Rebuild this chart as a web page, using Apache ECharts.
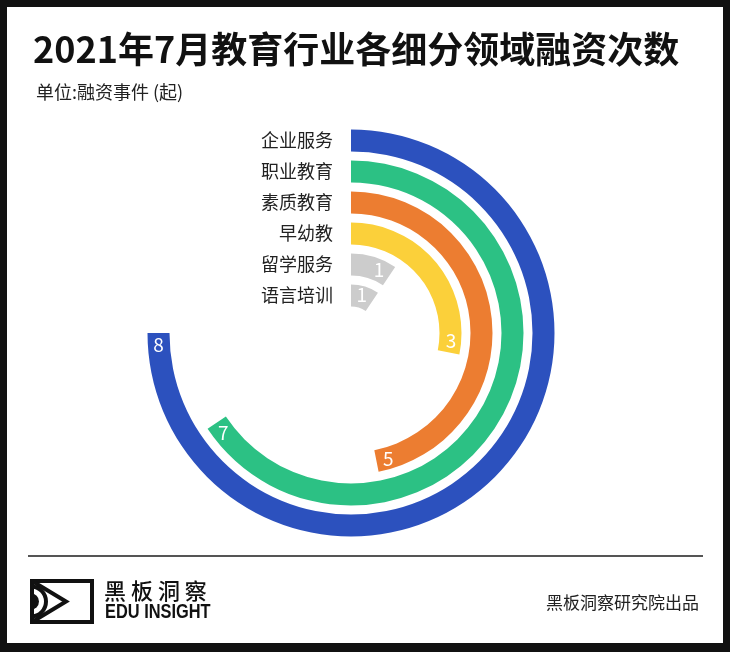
<!DOCTYPE html>
<html>
<head>
<meta charset="utf-8">
<script src="https://cdn.jsdelivr.net/npm/echarts@6/dist/echarts.min.js"></script>
<style>
html,body{margin:0;padding:0;background:#111;}
#chart{width:730px;height:652px;}
</style>
</head>
<body>
<div id="chart"></div>
<script>
// ---- data ----
const categories = ['语言培训', '留学服务', '早幼教', '素质教育', '职业教育', '企业服务'];
const values = [1, 1, 3, 5, 7, 8];
const palette = ['#cccccc', '#cccccc', '#fbd03a', '#ec7d31', '#2cc184', '#2c51be'];
const angleMax = 32 / 3; // 8 spans three quarters of the circle
const titleText = '2021年7月教育行业各细分领域融资次数';
const unitText = '单位:融资事件 (起)';
const sourceText = '黑板洞察研究院出品';

const FONT = '"Noto Sans CJK SC", "Noto Sans", sans-serif';

const chart = echarts.init(document.getElementById('chart'), null, {renderer: 'canvas'});

const option = {
  backgroundColor: '#111111',
  animation: false,
  graphic: [
    {type: 'rect', z: -10, shape: {x: 7, y: 7, width: 716, height: 636}, style: {fill: '#ffffff'}},
    {type: 'line', shape: {x1: 28, y1: 556, x2: 703, y2: 556}, style: {stroke: '#555555', lineWidth: 2}},
    // logo
    {type: 'rect', shape: {x: 32, y: 581, width: 60, height: 41}, style: {fill: 'none', stroke: '#111', lineWidth: 4}},
    {type: 'polyline', shape: {points: [[32, 581], [66, 601.5], [32, 622]]}, style: {fill: 'none', stroke: '#111', lineWidth: 4}},
    {type: 'arc', shape: {cx: 31, cy: 601.5, r: 15, startAngle: -Math.PI / 2, endAngle: Math.PI / 2}, style: {fill: 'none', stroke: '#111', lineWidth: 4}},
    {type: 'sector', shape: {cx: 31, cy: 601.5, r: 8, r0: 0, startAngle: -Math.PI / 2, endAngle: Math.PI / 2}, style: {fill: '#111'}},
    {type: 'text', x: 104, y: 580, style: {text: '黑 板 洞 察', font: '500 22px ' + FONT, fill: '#111'}},
    {type: 'text', x: 105, y: 602, scaleX: 0.78, style: {text: 'EDU INSIGHT', font: 'bold 21px "Liberation Sans", sans-serif', fill: '#111'}}
  ],
  title: [
    {text: titleText, left: 28, top: 26, textStyle: {fontSize: 36, fontWeight: 'bold', color: '#111', fontFamily: FONT}},
    {text: unitText, left: 31, top: 78, textStyle: {fontSize: 18, fontWeight: 'normal', color: '#222', fontFamily: FONT}},
    {text: sourceText, right: 26, top: 589, textStyle: {fontSize: 17, fontWeight: 'normal', color: '#222', fontFamily: FONT}}
  ],
  polar: {center: [351, 333], radius: [22, 208]},
  angleAxis: {type: 'value', min: 0, max: angleMax, startAngle: 90, clockwise: true, show: false},
  radiusAxis: {
    type: 'category', data: categories, z: 10,
    axisLine: {show: false}, axisTick: {show: false}, splitLine: {show: false},
    axisLabel: {interval: 0, hideOverlap: false, margin: 18, fontSize: 18, color: '#222', fontFamily: FONT}
  },
  series: [{
    type: 'bar', coordinateSystem: 'polar', barWidth: 22,
    data: values.map((v, i) => ({value: v, itemStyle: {color: palette[i]}})),
    label: {show: true, position: 'insideEnd', rotate: 0, align: 'center', verticalAlign: 'middle',
      color: '#fff', fontSize: 19, fontFamily: FONT, distance: 12}
  }]
};
chart.setOption(option);
</script>
</body>
</html>
